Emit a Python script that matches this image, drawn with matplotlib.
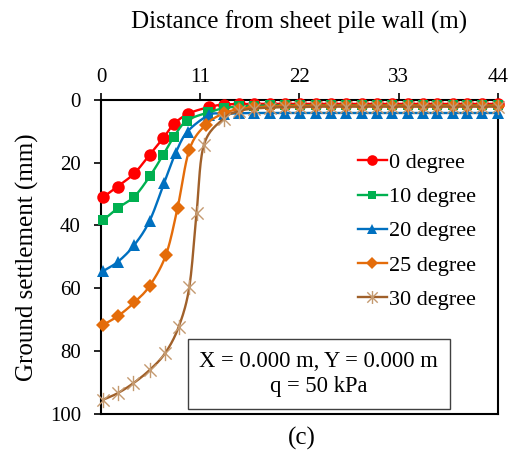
import numpy as np
import matplotlib
matplotlib.use("Agg")
import matplotlib.pyplot as plt
from matplotlib.path import Path
from matplotlib.lines import Line2D

plt.rcParams['font.family'] = ['Liberation Serif', 'DejaVu Serif']
plt.rcParams['mathtext.fontset'] = 'stix'

# Distance from wall (m) for the far field, shared by all cases
x_far = [13.6, 15.3, 17.0, 18.7, 20.4, 22.1, 23.8, 25.5, 27.2, 28.9, 30.6,
         32.3, 34.0, 35.7, 37.3, 39.0, 40.6, 42.3, 44.0]

# Near-field distances (m) per inclination angle
x_near_0 = [0.2, 1.85, 3.7, 5.4, 6.9, 8.1, 9.7, 12.0]
x_near_10 = [0.2, 1.85, 3.7, 5.4, 6.9, 8.1, 9.5, 11.9]
x_near_20 = [0.2, 1.9, 3.7, 5.4, 7.0, 8.3, 9.6, 12.0]
x_near_25 = [0.2, 1.9, 3.7, 5.4, 7.2, 8.5, 9.8, 11.6]
x_near_30 = [0.2, 1.85, 3.6, 5.4, 7.1, 8.6, 9.8, 10.6, 11.4]

# Ground settlement (mm), near field
s_near_0 = [31.1, 27.6, 23.4, 17.5, 12.2, 7.7, 4.4, 2.3]
s_near_10 = [38.4, 34.5, 30.8, 24.4, 17.5, 11.7, 6.7, 4.0]
s_near_20 = [54.6, 51.5, 46.2, 38.5, 26.5, 16.8, 10.1, 4.8]
s_near_25 = [71.7, 68.8, 64.5, 59.2, 49.4, 34.3, 15.9, 8.0]
s_near_30 = [95.5, 93.4, 90.2, 86.0, 80.7, 72.4, 59.5, 36.0, 14.5]

# Ground settlement (mm), far field
s_far_0 = [1.5, 1.4, 1.3, 1.3, 1.3, 1.3, 1.3, 1.3, 1.3, 1.3, 1.3,
           1.3, 1.3, 1.3, 1.3, 1.3, 1.3, 1.3, 1.3]
s_far_10 = [2.7, 2.1, 1.9, 1.8, 1.8, 1.8, 1.8, 1.8, 1.8, 1.8, 1.8,
            1.8, 1.8, 1.8, 1.8, 1.8, 1.8, 1.8, 1.8]
s_far_20 = [4.5, 4.3, 4.2, 4.2, 4.2, 4.2, 4.2, 4.2, 4.2, 4.2, 4.2,
            4.2, 4.2, 4.2, 4.2, 4.2, 4.2, 4.2, 4.2]
s_far_25 = [4.3, 3.0, 2.4, 2.2, 2.0, 2.0, 1.9, 1.9, 1.9, 1.9, 1.9,
            1.9, 1.9, 1.9, 1.9, 1.9, 1.9, 1.9, 1.9]
s_far_30 = [6.0, 3.6, 2.8, 2.5, 2.3, 2.3, 2.2, 2.2, 2.2, 2.2, 2.2,
            2.2, 2.2, 2.2, 2.2, 2.2, 2.2, 2.2, 2.2]

labels = ["0 degree", "10 degree", "20 degree", "25 degree", "30 degree"]
x_ticks = [0, 11, 22, 33, 44]
y_ticks = [0, 20, 40, 60, 80, 100]


def smooth(xs, ys, n=16):
    """Catmull-Rom style smoothed polyline through the points."""
    p = np.column_stack([xs, ys]).astype(float)
    m = np.zeros_like(p)
    m[1:-1] = (p[2:] - p[:-2]) / 2.0
    m[0] = p[1] - p[0]
    m[-1] = p[-1] - p[-2]
    out = [p[0]]
    t = np.linspace(0, 1, n + 1)[1:, None]
    for i in range(len(p) - 1):
        b0, b3 = p[i], p[i + 1]
        b1, b2 = b0 + m[i] / 3.0, b3 - m[i + 1] / 3.0
        seg = ((1 - t) ** 3) * b0 + 3 * ((1 - t) ** 2) * t * b1 \
            + 3 * (1 - t) * t ** 2 * b2 + t ** 3 * b3
        out.extend(seg)
    out = np.array(out)
    return out[:, 0], out[:, 1]


# Asterisk marker: an X with a vertical stroke
star = Path([(-1, -1), (1, 1), (-1, 1), (1, -1), (0, -1.25), (0, 1.25)],
            [Path.MOVETO, Path.LINETO, Path.MOVETO, Path.LINETO,
             Path.MOVETO, Path.LINETO])

series = [
    (x_near_0, s_near_0, s_far_0, "#FF0000", "#FF0000", "o", 9.0),
    (x_near_10, s_near_10, s_far_10, "#00B050", "#00B050", "s", 7.5),
    (x_near_20, s_near_20, s_far_20, "#0070C0", "#0070C0", "^", 9.0),
    (x_near_25, s_near_25, s_far_25, "#E46C0A", "#E46C0A", "D", 6.8),
    (x_near_30, s_near_30, s_far_30, "#A0602A", "#C49A70", star, 11.0),
]

fig = plt.figure(figsize=(5.10, 4.62), dpi=100)
ax = fig.add_axes([0.198, 0.104, 0.778, 0.680])

handles = []
for i, (xn, sn, sf, lc, mc, mk, ms) in enumerate(series):
    xs = list(xn) + list(x_far)
    ys = list(sn) + list(sf)
    sx, sy = smooth(xs, ys)
    ax.plot(sx, sy, color=lc, lw=1.7, zorder=3 + i * 0.1, clip_on=False)
    mew = 1.0 if mk is star else 0.0
    ax.plot(xs, ys, ls="none", marker=mk, ms=ms, color=mc, mfc=mc, mec=mc,
            mew=mew, zorder=3.05 + i * 0.1, clip_on=False)
    handles.append(Line2D([], [], color=lc, lw=1.7, marker=mk,
                          ms=ms * 0.85, mfc=mc, mec=mc, mew=mew))

ax.set_xlim(0, 44)
ax.set_ylim(100, 0)
ax.set_xticks(x_ticks)
ax.set_yticks(y_ticks)
ax.xaxis.tick_top()
ax.xaxis.set_label_position("top")
ax.tick_params(axis="both", which="both", direction="out", length=5,
               width=1.2, labelsize=15, colors="black")
ax.tick_params(axis="x", pad=4)
ax.tick_params(axis="y", pad=9.5)
for sp in ax.spines.values():
    sp.set_linewidth(1.5)
    sp.set_color("black")

ax.set_xlabel("Distance from sheet pile wall (m)", fontsize=18, labelpad=28.5)
ax.set_ylabel("Ground settlement (mm)", fontsize=18, labelpad=8)

leg = ax.legend(handles, labels, loc="upper left",
                bbox_to_anchor=(0.625, 0.86), frameon=False, fontsize=16,
                handlelength=1.3, handletextpad=0.1, labelspacing=0.61,
                borderaxespad=0.0)
leg.set_zorder(5)

ax.text(0.549, 0.127, "X = 0.000 m, Y = 0.000 m\nq = 50 kPa",
        transform=ax.transAxes, ha="center", va="center", fontsize=16.3,
        linespacing=1.3, zorder=6,
        bbox=dict(boxstyle="square,pad=0.52", fc="white", ec="#404040",
                  lw=1.0))

fig.text(0.592, 0.052, "(c)", ha="center", va="center", fontsize=18)

fig.savefig("out.png", dpi=100)
